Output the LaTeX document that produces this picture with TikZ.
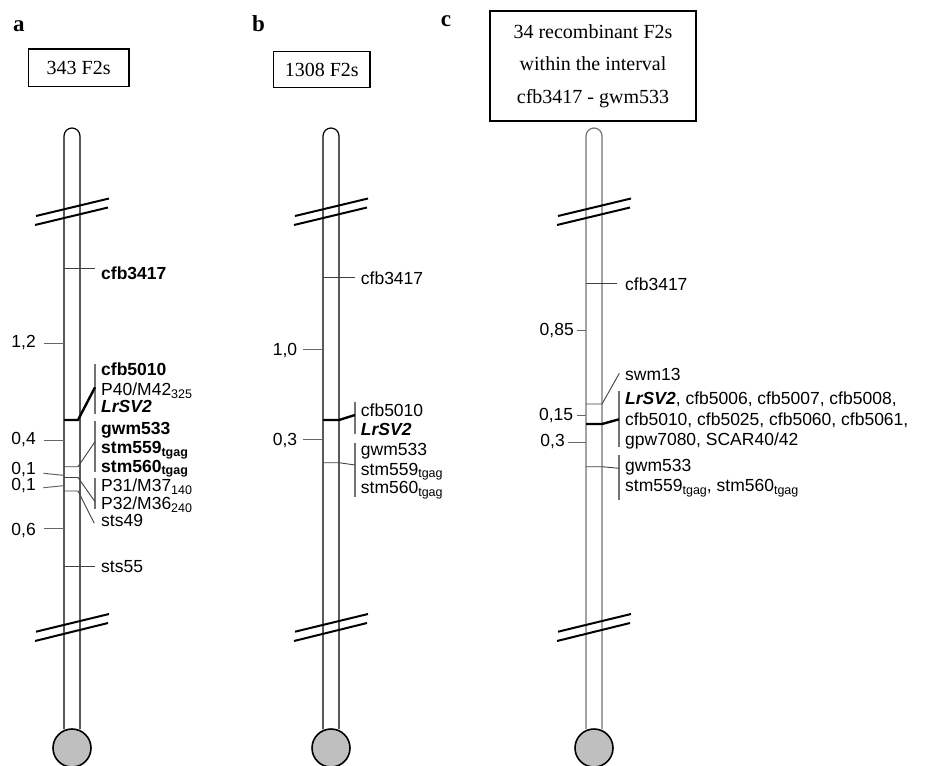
\documentclass[tikz,border=0pt]{standalone}
\usepackage{fontspec}
\setmainfont{Liberation Serif}
\setsansfont{Liberation Sans}
\newcommand{\lowsub}[1]{\raisebox{-0.3ex}{\fontsize{12.5}{12.5}\selectfont #1}}
\tikzset{
  lbl/.style={anchor=base west, inner sep=0pt, font=\sffamily\fontsize{17.5}{21}\selectfont},
  blbl/.style={lbl, font=\sffamily\bfseries\fontsize{17.5}{21}\selectfont},
  num/.style={anchor=base east, inner sep=0pt, font=\sffamily\fontsize{17.5}{21}\selectfont},
  panel/.style={anchor=base west, inner sep=0pt, font=\bfseries\fontsize{23}{23}\selectfont},
  popbox/.style={draw, line width=1.6pt, inner sep=0pt, align=center},
  tickline/.style={draw=black!60, line width=1pt},
  mline/.style={draw=black!75, line width=0.9pt},
  bracket/.style={draw=black!55, line width=1.3pt},
  lrline/.style={draw=black, line width=2.4pt, line join=round},
  brk/.style={draw=black, line width=2pt},
  chromline/.style={line width=1.2pt},
  centromere/.style={draw=black, line width=1.6pt, fill=black!25},
}
\begin{document}
\begin{tikzpicture}[x=1pt, y=-1pt]
\useasboundingbox (0,0) rectangle (925,765);

% ---------- chromosome bodies, break marks and centromeres ----------
\foreach \cx/\col [count=\i] in {72/black, 331/black, 594/black!55} {
  \draw[chromline, draw=\col] (\cx-8,729) -- (\cx-8,136) arc (180:360:8) -- (\cx+8,729);
  \draw[brk] (\cx-36,216) -- (\cx+37,198.5);
  \draw[brk] (\cx-37,225) -- (\cx+36,207.5);
  \draw[brk] (\cx-36,631.7) -- (\cx+37,614);
  \draw[brk] (\cx-37,641) -- (\cx+36,623);
  \draw[centromere] (\cx,748) circle (19);
}

% ---------- panel letters and population boxes ----------
\node[panel] (la) at (13,31.7) {a};
\node[panel] (lb) at (252,31.7) {b};
\node[panel] (lc) at (440.7,26.7) {c};
\node[popbox, minimum width=100.7pt, minimum height=37.4pt,
      font=\fontsize{20}{20}\selectfont] (boxa) at (78.7,68) {343 F2s};
\node[popbox, minimum width=96.7pt, minimum height=36pt,
      font=\fontsize{20}{20}\selectfont] (boxb) at (321.7,69.7) {1308 F2s};
\node[popbox, minimum width=206pt, minimum height=110pt,
      font=\fontsize{20}{32.5}\selectfont] (boxc) at (593,66)
      {34 recombinant F2s\\within the interval\\cfb3417 - gwm533};

% ================= panel a =================
% distance labels
\node[num] (a-d1) at (36,347.7) {1,2};
\node[num] (a-d2) at (36,444.3) {0,4};
\node[num] (a-d3) at (36,474.3) {0,1};
\node[num] (a-d4) at (36,490.5) {0,1};
\node[num] (a-d5) at (36,535) {0,6};
\coordinate (a-t1) at (64,343.3);
\coordinate (a-t2) at (64,440.7);
\coordinate (a-t3) at (63.3,475.3);
\coordinate (a-t4) at (63.3,485.7);
\coordinate (a-t5) at (64,528.3);
\draw[tickline] (44,343.3) -- (a-t1);
\draw[tickline] (44,440.7) -- (a-t2);
\draw[tickline] (43.3,473.3) -- (a-t3);
\draw[tickline] (43.3,487.7) -- (a-t4);
\draw[tickline] (44,528.3) -- (a-t5);

% marker labels
\node[blbl] (a-cfb3417) at (101,279) {cfb3417};
\node[blbl] (a-cfb5010) at (101,375) {cfb5010};
\node[lbl]  (a-p40) at (101,395.5) {P40/M42\lowsub{325}};
\node[blbl, font=\sffamily\bfseries\itshape\fontsize{17.5}{21}\selectfont] (a-lr) at (101,412) {LrSV2};
\node[blbl] (a-gwm533) at (101,434) {gwm533};
\node[blbl] (a-stm559) at (101,453.5) {stm559\lowsub{tgag}};
\node[blbl] (a-stm560) at (101,472) {stm560\lowsub{tgag}};
\node[lbl]  (a-p31) at (101,491.7) {P31/M37\lowsub{140}};
\node[lbl]  (a-p32) at (101,509.3) {P32/M36\lowsub{240}};
\node[lbl]  (a-sts49) at (101,526.7) {sts49};
\node[lbl]  (a-sts55) at (101,572.7) {sts55};

% marker positions on the chromosome and label ends
\coordinate (a-m1) at (64,268.3);   \coordinate (a-e1) at (95,268.3);
\coordinate (a-m2) at (64,420);     \coordinate (a-k2) at (78,420);   \coordinate (a-e2) at (95,387.3);
\coordinate (a-m3) at (64,466.7);   \coordinate (a-k3) at (78,466.7); \coordinate (a-e3) at (95,441.7);
\coordinate (a-m4) at (64,477.5);   \coordinate (a-k4) at (78,477.5); \coordinate (a-e4) at (95,501.7);
\coordinate (a-m5) at (64,491);     \coordinate (a-k5) at (78,491);   \coordinate (a-e5) at (94.3,523.3);
\coordinate (a-m6) at (64,566.7);   \coordinate (a-e6) at (95,566.7);
\coordinate (a-b2t) at (95,364);    \coordinate (a-b2b) at (95,414);
\coordinate (a-b3t) at (95,421);    \coordinate (a-b3b) at (95,472.3);
\coordinate (a-b4t) at (95,477.7);  \coordinate (a-b4b) at (95,509.3);

\draw[mline] (a-m1) -- (a-e1);
\draw[bracket] (a-b2t) -- (a-b2b);
\draw[lrline] (a-m2) -- (a-k2) -- (a-e2);
\draw[bracket] (a-b3t) -- (a-b3b);
\draw[mline] (a-m3) -- (a-k3) -- (a-e3);
\draw[bracket] (a-b4t) -- (a-b4b);
\draw[mline] (a-m4) -- (a-k4) -- (a-e4);
\draw[mline] (a-m5) -- (a-k5) -- (a-e5);
\draw[mline] (a-m6) -- (a-e6);

% ================= panel b =================
\node[num] (b-d1) at (297.3,355) {1,0};
\node[num] (b-d2) at (297.3,445) {0,3};
\coordinate (b-t1) at (323,349);
\coordinate (b-t2) at (323,439.3);
\draw[tickline] (303.3,349) -- (b-t1);
\draw[tickline] (303.3,439.3) -- (b-t2);

\node[lbl] (b-cfb3417) at (360.7,284.3) {cfb3417};
\node[lbl] (b-cfb5010) at (360.7,416) {cfb5010};
\node[blbl, font=\sffamily\bfseries\itshape\fontsize{17.5}{21}\selectfont] (b-lr) at (360.7,435.7) {LrSV2};
\node[lbl] (b-gwm533) at (360.7,455) {gwm533};
\node[lbl] (b-stm559) at (360.7,475) {stm559\lowsub{tgag}};
\node[lbl] (b-stm560) at (360.7,493.3) {stm560\lowsub{tgag}};

\coordinate (b-m1) at (323,277.7); \coordinate (b-e1) at (355,277.7);
\coordinate (b-m2) at (323,420);   \coordinate (b-k2) at (339,420);   \coordinate (b-e2) at (355,415);
\coordinate (b-m3) at (323,462.7); \coordinate (b-k3) at (339,462.7); \coordinate (b-e3) at (355,465);
\coordinate (b-b2t) at (355,401.7); \coordinate (b-b2b) at (355,434.3);
\coordinate (b-b3t) at (355,443.3); \coordinate (b-b3b) at (355,496.7);

\draw[mline] (b-m1) -- (b-e1);
\draw[bracket] (b-b2t) -- (b-b2b);
\draw[lrline] (b-m2) -- (b-k2) -- (b-e2);
\draw[bracket] (b-b3t) -- (b-b3b);
\draw[mline] (b-m3) -- (b-k3) -- (b-e3);

% ================= panel c =================
\node[num] (c-d1) at (574,335) {0,85};
\node[num] (c-d2) at (573.3,420.7) {0,15};
\node[num] (c-d3) at (565,446.7) {0,3};
\coordinate (c-t1) at (586,330);
\coordinate (c-t2) at (586,415);
\coordinate (c-t3) at (586,442.3);
\draw[tickline] (577,330) -- (c-t1);
\draw[tickline] (577,415) -- (c-t2);
\draw[tickline] (568.3,442.3) -- (c-t3);

\node[lbl] (c-cfb3417) at (625,290.7) {cfb3417};
\node[lbl] (c-swm13) at (625,380) {swm13};
\node[lbl] (c-l1) at (625,404) {\textbf{\textit{LrSV2}}, cfb5006, cfb5007, cfb5008,};
\node[lbl] (c-l2) at (625,425) {cfb5010, cfb5025, cfb5060, cfb5061,};
\node[lbl] (c-l3) at (625,445) {gpw7080, SCAR40/42};
\node[lbl] (c-gwm533) at (625,471.7) {gwm533};
\node[lbl] (c-stm) at (625,491.7) {stm559\lowsub{tgag}, stm560\lowsub{tgag}};

\coordinate (c-m1) at (586,283.3); \coordinate (c-e1) at (617.3,283.3);
\coordinate (c-m2) at (586,404);   \coordinate (c-k2) at (602,404);   \coordinate (c-e2) at (619.3,373.3);
\coordinate (c-m3) at (586,424);   \coordinate (c-k3) at (602,424);   \coordinate (c-e3) at (619,419.3);
\coordinate (c-m4) at (586,466.7); \coordinate (c-k4) at (602,466.7); \coordinate (c-e4) at (619,468.3);
\coordinate (c-b3t) at (619,390.7); \coordinate (c-b3b) at (619,447.3);
\coordinate (c-b4t) at (619,455);   \coordinate (c-b4b) at (619,500);

\draw[mline] (c-m1) -- (c-e1);
\draw[mline] (c-m2) -- (c-k2) -- (c-e2);
\draw[bracket] (c-b3t) -- (c-b3b);
\draw[lrline] (c-m3) -- (c-k3) -- (c-e3);
\draw[bracket] (c-b4t) -- (c-b4b);
\draw[mline] (c-m4) -- (c-k4) -- (c-e4);
\end{tikzpicture}
\end{document}
